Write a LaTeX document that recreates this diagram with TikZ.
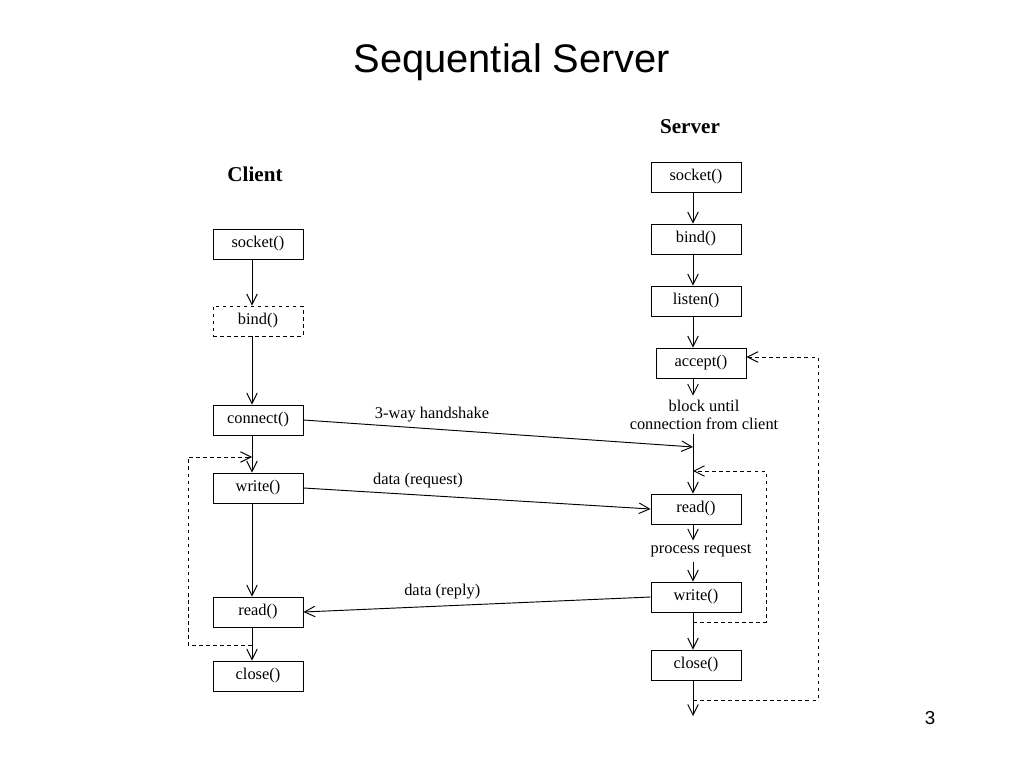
\documentclass[tikz,border=0pt]{standalone}
\usepackage{fontspec}
\setmainfont{Liberation Serif}
\newfontfamily\titlefont{Liberation Sans}
\usetikzlibrary{arrows.meta}

\begin{document}
\begin{tikzpicture}[x=0.03cm, y=-0.03cm,
    box/.style={draw, thick, minimum width=2.7cm, minimum height=0.9cm, inner sep=0pt, font=\fontsize{14}{16}\selectfont},
    dbox/.style={box, dashed},
    lbl/.style={font=\fontsize{14}{16}\selectfont},
    head/.style={font=\bfseries\fontsize{18}{20}\selectfont},
    flow/.style={thick, -{Straight Barb[length=9pt, width=9pt]}},
    loop/.style={thick, dashed, -{Straight Barb[length=9pt, width=9pt]}}]
    \useasboundingbox (0,0) rectangle (1024,768);

    \node[font=\titlefont\fontsize{34}{38}\selectfont] (title) at (512,62) {Sequential Server};
    \node[font=\titlefont\fontsize{16}{18}\selectfont] (page) at (930,718) {3};

    % client side
    \node[head] (client) at (255,174) {Client};
    \node[box] (csocket) at (258,244) {socket()};
    \node[dbox] (cbind) at (258,321) {bind()};
    \node[box] (cconnect) at (258,420) {connect()};
    \node[box] (cwrite) at (258,488) {write()};
    \node[box] (cread) at (258,612) {read()};
    \node[box] (cclose) at (258,676) {close()};
    \coordinate (cline) at (252,0);

    \draw[flow] (csocket.south -| cline) -- (cbind.north -| cline);
    \draw[flow] (cbind.south -| cline) -- (cconnect.north -| cline);
    \draw[flow] (cconnect.south -| cline) -- (cwrite.north -| cline);
    \draw[flow] (cwrite.south -| cline) -- (cread.north -| cline);
    \draw[flow] (cread.south -| cline) -- (cclose.north -| cline);
    \draw[loop] (252,645) -- (188,645) -- (188,457) -- (252,457);

    % server side
    \node[head] (server) at (690,127) {Server};
    \node[box] (ssocket) at (696,177) {socket()};
    \node[box] (sbind) at (696,239) {bind()};
    \node[box] (slisten) at (696,301) {listen()};
    \node[box] (saccept) at (701,363) {accept()};
    \node[lbl, align=center] (sblock) at (704,415) {block until\\connection from client};
    \node[box] (sread) at (696,509) {read()};
    \node[lbl] (sproc) at (701,551) {process request};
    \node[box] (swrite) at (696,597) {write()};
    \node[box] (sclose) at (696,665) {close()};
    \coordinate (sjoin) at (693,447);
    \coordinate (send) at (693,716);

    \draw[flow] (ssocket.south -| sjoin) -- (sbind.north -| sjoin);
    \draw[flow] (sbind.south -| sjoin) -- (slisten.north -| sjoin);
    \draw[flow] (slisten.south -| sjoin) -- (saccept.north -| sjoin);
    \draw[flow] (saccept.south -| sjoin) -- (sblock.north -| sjoin);
    \draw[flow] (sblock.south -| sjoin) -- (sread.north -| sjoin);
    \draw[flow] (sread.south -| sjoin) -- (sproc.north -| sjoin);
    \draw[flow] (sproc.south -| sjoin) -- (swrite.north -| sjoin);
    \draw[flow] (swrite.south -| sjoin) -- (sclose.north -| sjoin);
    \draw[flow] (sclose.south -| sjoin) -- (send);
    \draw[loop] (693,622) -- (766,622) -- (766,471) -- (693,471);
    \draw[loop] (693,700) -- (818,700) -- (818,357) -- (saccept.east |- 0,357);

    % messages
    \draw[flow] (cconnect.east) -- node[lbl, above, pos=0.33, yshift=2pt] {3-way handshake} (sjoin);
    \draw[flow] (cwrite.east) -- node[lbl, above, pos=0.33, yshift=2pt] {data (request)} (sread.west);
    \draw[flow] (swrite.west) -- node[lbl, above, pos=0.6, yshift=2pt] {data (reply)} (cread.east);
\end{tikzpicture}
\end{document}
